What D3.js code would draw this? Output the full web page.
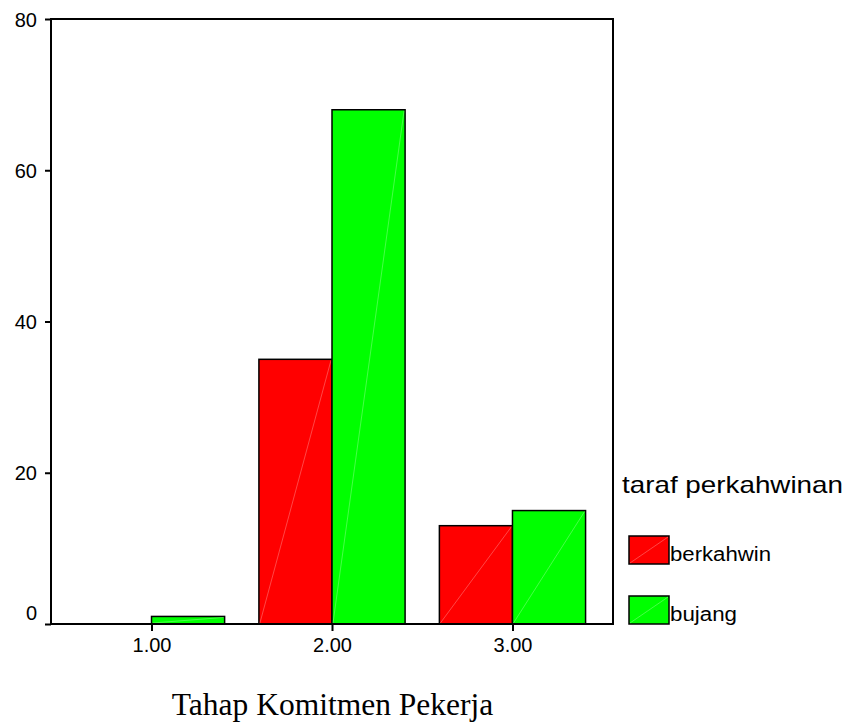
<!DOCTYPE html>
<html><head><meta charset="utf-8">
<script src="https://cdn.jsdelivr.net/npm/d3@7"></script>
<style>html,body{margin:0;padding:0;background:#fff;}svg{display:block;}</style>
</head><body>
<svg id="chart" width="849" height="725"></svg>
<script>
const categories = ["1.00", "2.00", "3.00"];
const seriesNames = ["berkahwin", "bujang"];
const berkahwin = [0, 35, 13];
const bujang = [1, 68, 15];
const yTicks = [0, 20, 40, 60, 80];
const colors = ["#ff0000", "#00ff00"];
const xTitle = "Tahap Komitmen Pekerja";
const legendTitle = "taraf perkahwinan";

const svg = d3.select("#chart");
const L = 51, R = 613, T = 19, B = 624;
const x = d3.scalePoint().domain(categories).range([L, R]).padding(0.557);
const groupW = x.step() * 0.81;
const xs = d3.scaleBand().domain(seriesNames).range([-groupW/2, groupW/2]);
const y = d3.scaleLinear().domain([0, 80]).range([B, T]);

const data = [];
categories.forEach((c, i) => {
  data.push({c, s: seriesNames[0], v: berkahwin[i], col: colors[0]});
  data.push({c, s: seriesNames[1], v: bujang[i], col: colors[1]});
});

// bars
const g = svg.append("g");
data.filter(d => d.v > 0).forEach(d => {
  const x0 = x(d.c) + xs(d.s), w = xs.bandwidth(), y0 = y(d.v), h = y(0) - y(d.v);
  g.append("rect").attr("x", x0).attr("y", y0).attr("width", w).attr("height", h)
    .attr("fill", d.col).attr("stroke", "#000").attr("stroke-width", 1.5);
  g.append("line").attr("x1", x0 + 1).attr("y1", y(0) - 1).attr("x2", x0 + w - 1).attr("y2", y0 + 1)
    .attr("stroke", "rgba(255,255,255,0.35)").attr("stroke-width", 0.8);
});

// frame
svg.append("rect").attr("x", L).attr("y", T).attr("width", R - L).attr("height", B - T)
  .attr("fill", "none").attr("stroke", "#000").attr("stroke-width", 2);

// y axis
const yAxis = d3.axisLeft(y).tickValues(yTicks).tickSize(6).tickPadding(8).tickFormat(d3.format("d"));
const ya = svg.append("g").attr("transform", `translate(${L},0)`).call(yAxis);
ya.select(".domain").remove();
ya.selectAll(".tick line").attr("stroke", "#000").attr("stroke-width", 2);
ya.selectAll(".tick text").attr("font-family", "Arial, 'Liberation Sans', sans-serif")
  .attr("font-size", 20).attr("fill", "#000")
  .attr("dy", d => d === 0 ? "-0.25em" : "0.36em");

// x axis
const xAxis = d3.axisBottom(x).tickSize(7).tickPadding(7);
const xa = svg.append("g").attr("transform", `translate(0,${B})`).call(xAxis);
xa.select(".domain").remove();
xa.selectAll(".tick line").attr("stroke", "#000").attr("stroke-width", 2);
xa.selectAll(".tick text").attr("font-family", "Arial, 'Liberation Sans', sans-serif")
  .attr("font-size", 20).attr("fill", "#000");

// x title
svg.append("text").attr("x", 332.5).attr("y", 715).attr("text-anchor", "middle")
  .attr("font-family", "'Times New Roman', 'Liberation Serif', serif").attr("font-size", 31.5)
  .attr("fill", "#000").text(xTitle);

// legend
svg.append("text").attr("x", 622).attr("y", 493)
  .attr("font-family", "Arial, 'Liberation Sans', sans-serif").attr("font-size", 24)
  .attr("textLength", 221).attr("lengthAdjust", "spacingAndGlyphs")
  .attr("fill", "#000").text(legendTitle);
const ly = [536, 596];
const lw = [101, 67];
seriesNames.forEach((s, i) => {
  svg.append("rect").attr("x", 629).attr("y", ly[i]).attr("width", 40).attr("height", 28)
    .attr("fill", colors[i]).attr("stroke", "#000").attr("stroke-width", 1.5);
  svg.append("line").attr("x1", 630).attr("y1", ly[i] + 27).attr("x2", 668).attr("y2", ly[i] + 1)
    .attr("stroke", "rgba(255,255,255,0.35)").attr("stroke-width", 0.8);
  svg.append("text").attr("x", 670).attr("y", ly[i] + 25)
    .attr("font-family", "Arial, 'Liberation Sans', sans-serif").attr("font-size", 20)
    .attr("textLength", lw[i]).attr("lengthAdjust", "spacingAndGlyphs")
    .attr("fill", "#000").text(s);
});
</script>
</body></html>
